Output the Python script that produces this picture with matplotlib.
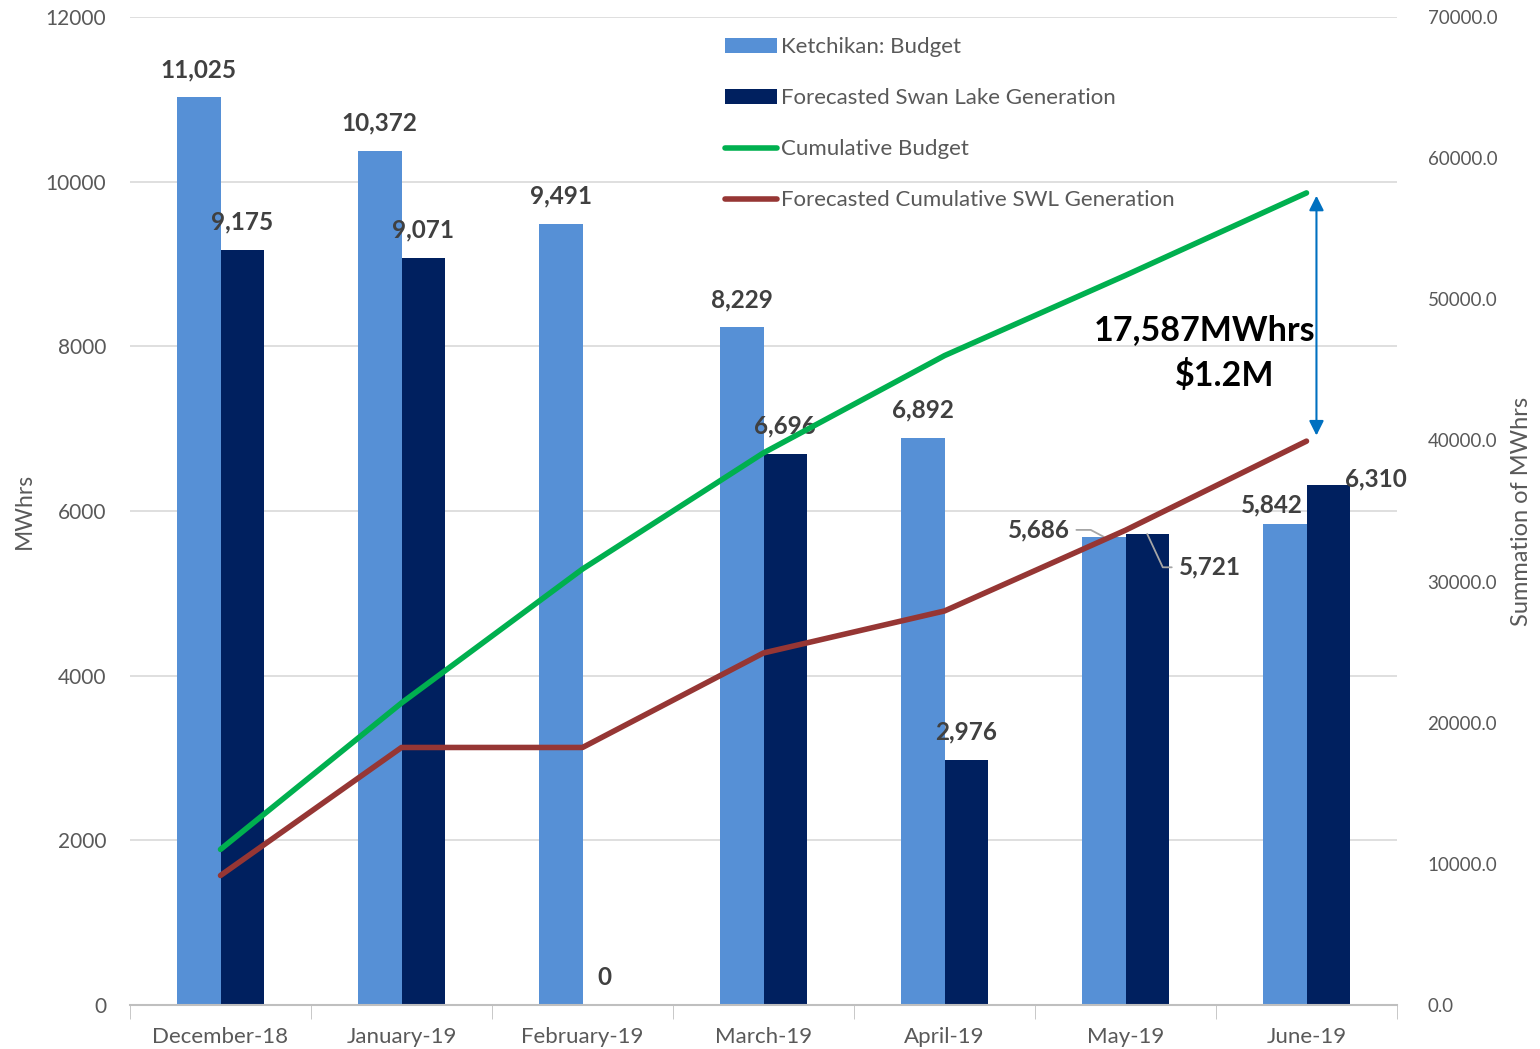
import numpy as np
import matplotlib.pyplot as plt

plt.rcParams['font.family'] = ['Lato', 'DejaVu Sans']

months = ["December-18", "January-19", "February-19", "March-19", "April-19", "May-19", "June-19"]
budget = [11025, 10372, 9491, 8229, 6892, 5686, 5842]
swan_lake = [9175, 9071, 0, 6696, 2976, 5721, 6310]
cum_budget = [11025, 21397, 30888, 39117, 46009, 51695, 57537]
cum_swl = [9175, 18246, 18246, 24942, 27918, 33639, 39949]

light = "#5690D6"
navy = "#00205F"
green = "#00B04F"
red = "#963634"
grey = "#595959"
lblc = "#404040"

fig = plt.figure(figsize=(15.4, 10.49), dpi=100)
ax = fig.add_axes([130 / 1540, 1 - 1005 / 1049, 1267 / 1540, 988 / 1049])
ax2 = ax.twinx()

x = np.arange(len(months))
w = 0.24
b1 = ax.bar(x - w / 2, budget, w, color=light, label="Ketchikan: Budget", zorder=2)
b2 = ax.bar(x + w / 2, swan_lake, w, color=navy, label="Forecasted Swan Lake Generation", zorder=2)

ax.set_xlim(-0.5, 6.5)
ax.set_ylim(0, 12000)
ax.set_yticks(range(0, 12001, 2000))
ax.set_xticks(x)
ax.set_xticklabels(months)
ax.set_xticks(np.arange(-0.5, 7, 1), minor=True)
ax.tick_params(axis='x', which='major', length=0, pad=15.5, labelsize=16, labelcolor=grey)
ax.tick_params(axis='x', which='minor', length=10, color="#BFBFBF")
ax.tick_params(axis='y', length=0, pad=17, labelsize=15, labelcolor=grey)
ax.grid(axis='y', color="#D9D9D9", linewidth=1.2, zorder=0)
ax.set_axisbelow(True)
for s in ["top", "right", "left"]:
    ax.spines[s].set_visible(False)
ax.spines["bottom"].set_color("#BFBFBF")
ax.spines["bottom"].set_linewidth(1.5)
ax.set_ylabel("MWhrs", fontsize=16.5, color=grey, labelpad=8)

l1, = ax2.plot(x, cum_budget, color=green, linewidth=4, label="Cumulative Budget", solid_capstyle='round', zorder=3)
l2, = ax2.plot(x, cum_swl, color=red, linewidth=4, label="Forecasted Cumulative SWL Generation", solid_capstyle='round', zorder=3)
ax2.set_ylim(0, 70000)
ax2.set_yticks(range(0, 70001, 10000))
ax2.set_yticklabels([f"{v:.1f}" for v in range(0, 70001, 10000)])
ax2.tick_params(axis='y', length=0, pad=22, labelsize=13.5, labelcolor=grey)
for s in ["top", "right", "left", "bottom"]:
    ax2.spines[s].set_visible(False)
ax2.set_ylabel("Summation of MWhrs", fontsize=17, color=grey, labelpad=10)

# data labels
lab = dict(ha='center', va='center', fontsize=17.5, fontweight='bold', color=lblc, textcoords='offset points')
for i in range(5):
    ax.annotate(f"{budget[i]:,}", (x[i] - w / 2, budget[i]), xytext=(0, 20), **lab)
    ax.annotate(f"{swan_lake[i]:,}", (x[i] + w / 2, swan_lake[i]), xytext=(0, 20), **lab)
ax.annotate(f"{budget[6]:,}", (x[6] - w / 2, budget[6]), xytext=(-9, 14), **lab)
ax.annotate(f"{swan_lake[6]:,}", (x[6] + w / 2, swan_lake[6]), xytext=(34, 5), **lab)
ax.annotate(f"{budget[5]:,}", (x[5] - w / 2, budget[5]), xytext=(-47, 5),
            arrowprops=dict(arrowstyle='-', color="#A6A6A6", lw=1.3, shrinkA=3, shrinkB=0,
                            connectionstyle="angle,angleA=0,angleB=-28,rad=0"), **lab)
ax.annotate(f"{swan_lake[5]:,}", (x[5] + w / 2, swan_lake[5]), xytext=(45, -24),
            arrowprops=dict(arrowstyle='-', color="#A6A6A6", lw=1.3, shrinkA=3, shrinkB=0,
                            connectionstyle="angle,angleA=0,angleB=115,rad=0"), **lab)

# gap arrow
ax2.annotate("", xy=(6.055, cum_budget[6] - 200), xytext=(6.055, cum_swl[6] + 400),
             arrowprops=dict(arrowstyle='<|-|>', color="#0070C0", lw=1.5, mutation_scale=22,
                             shrinkA=0, shrinkB=0), zorder=4)
ax2.text(6.05, 47800, "17,587MWhrs", ha='right', va='center', fontsize=24.5, fontweight='bold', color='black')
ax2.text(5.55, 44600, "$1.2M", ha='center', va='center', fontsize=24.5, fontweight='bold', color='black')

ax2.legend([b1, b2, l1, l2], [b1.get_label(), b2.get_label(), l1.get_label(), l2.get_label()],
           loc='upper left', bbox_to_anchor=(0.4535, 1.0), frameon=False, fontsize=16,
           labelcolor=grey, handlelength=2.35, handleheight=0.65, handletextpad=0.2, labelspacing=1.4)

fig.savefig("out.png", dpi=100)
